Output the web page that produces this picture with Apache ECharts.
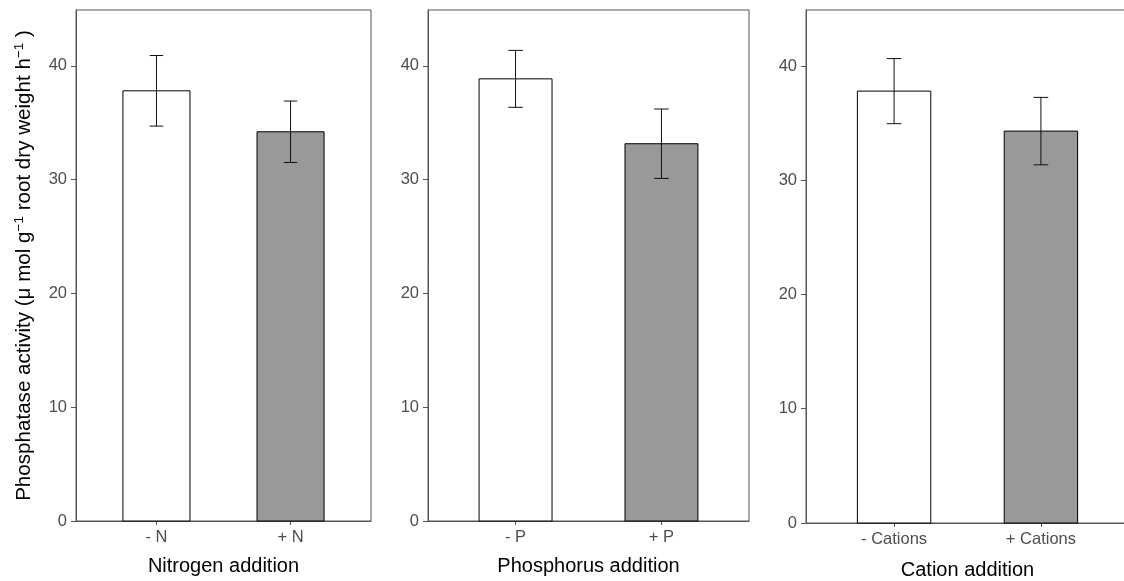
<!DOCTYPE html>
<html><head><meta charset="utf-8">
<script src="https://cdn.jsdelivr.net/npm/echarts@6/dist/echarts.min.js"></script>
<style>html,body{margin:0;padding:0;background:#fff}#c{width:1124px;height:581px}</style>
</head><body><div id="c"></div>
<script>
// ---- data ----
const nitrogenLabels = ['- N', '+ N'];
const nitrogenMeans = [37.8, 34.2];
const nitrogenErrors = [3.1, 2.7];
const phosphorusLabels = ['- P', '+ P'];
const phosphorusMeans = [38.85, 33.15];
const phosphorusErrors = [2.5, 3.05];
const cationLabels = ['- Cations', '+ Cations'];
const cationMeans = [37.8, 34.3];
const cationErrors = [2.85, 2.95];
const xTitles = ['Nitrogen addition', 'Phosphorus addition', 'Cation addition'];
const yTicks = [0, 10, 20, 30, 40];
const xPositions = [1, 2];

// ---- styles ----
const FONT = '"Liberation Sans", Arial, sans-serif';
const FILLS = ['#ffffff', '#999999'];
const FRAME = '#555555';
const TICKTXT = '#4d4d4d';

const panels = [
  {labels: nitrogenLabels, means: nitrogenMeans, errs: nitrogenErrors, grid: {left: 76, top: 10, width: 295, height: 511}, gap: 35},
  {labels: phosphorusLabels, means: phosphorusMeans, errs: phosphorusErrors, grid: {left: 428, top: 10, width: 321, height: 511}, gap: 35},
  {labels: cationLabels, means: cationMeans, errs: cationErrors, grid: {left: 806, top: 10, width: 323, height: 513}, gap: 37}
];

function barItem(params, api) {
  const x = api.value(0), y = api.value(1);
  const p0 = api.coord([x - 0.25, y]);
  const p1 = api.coord([x + 0.25, 0]);
  return {type: 'rect',
    shape: {x: p0[0], y: p0[1], width: p1[0] - p0[0], height: p1[1] - p0[1]},
    style: {fill: FILLS[params.dataIndex], stroke: '#000', lineWidth: 1}};
}
function errItem(params, api) {
  const x = api.value(0), m = api.value(1), e = api.value(2);
  const top = api.coord([x, m + e]);
  const bot = api.coord([x, m - e]);
  const l = api.coord([x - 0.05, m])[0];
  const r = api.coord([x + 0.05, m])[0];
  const st = {stroke: '#111', lineWidth: 1};
  return {type: 'group', children: [
    {type: 'line', shape: {x1: top[0], y1: top[1], x2: bot[0], y2: bot[1]}, style: st},
    {type: 'line', shape: {x1: l, y1: top[1], x2: r, y2: top[1]}, style: st},
    {type: 'line', shape: {x1: l, y1: bot[1], x2: r, y2: bot[1]}, style: st}
  ]};
}

const grid = [], xAxis = [], yAxis = [], series = [];
panels.forEach((p, i) => {
  grid.push(Object.assign({show: true, borderColor: FRAME, borderWidth: 1, backgroundColor: 'transparent',
    containLabel: false, outerBoundsMode: 'none'}, p.grid));
  xAxis.push({
    gridIndex: i, type: 'value', min: 0.4, max: 2.6,
    name: xTitles[i], nameLocation: 'middle', nameGap: p.gap,
    nameTextStyle: {fontFamily: FONT, fontSize: 20, color: '#000'},
    axisLine: {show: true, lineStyle: {color: FRAME}},
    axisTick: {show: true, length: 4, customValues: xPositions, lineStyle: {color: FRAME}},
    axisLabel: {customValues: xPositions, margin: 8, fontFamily: FONT, fontSize: 16.5, color: TICKTXT,
      formatter: v => p.labels[Math.round(v) - 1]},
    splitLine: {show: false}
  });
  const ya = {
    gridIndex: i, type: 'value', min: 0, max: 44.9,
    axisLine: {show: true, lineStyle: {color: FRAME}},
    axisTick: {show: true, length: 5, customValues: yTicks, lineStyle: {color: FRAME}},
    axisLabel: {customValues: yTicks, margin: 9, fontFamily: FONT, fontSize: 16.5, color: TICKTXT},
    splitLine: {show: false}
  };
  if (i === 0) {
    ya.name = '{t|Phosphatase activity (μ mol g}{s|−1}{t| root dry weight h}{s|−1}{t| )}';
    ya.nameLocation = 'middle';
    ya.nameGap = 40;
    ya.nameRotate = 90;
    ya.nameTextStyle = {rich: {
      t: {fontFamily: FONT, fontSize: 20.6, color: '#000', lineHeight: 24},
      s: {fontFamily: FONT, fontSize: 13.5, color: '#000', lineHeight: 14, verticalAlign: 'top'}
    }};
  }
  yAxis.push(ya);
  const data = xPositions.map((x, k) => [x, p.means[k], p.errs[k]]);
  series.push({type: 'custom', xAxisIndex: i, yAxisIndex: i, renderItem: barItem, data: data, clip: false, silent: true, encode: {x: 0, y: 1}});
  series.push({type: 'custom', xAxisIndex: i, yAxisIndex: i, renderItem: errItem, data: data, clip: false, silent: true, encode: {x: 0, y: [1]}});
});

const chart = echarts.init(document.getElementById('c'), null, {renderer: 'canvas'});
chart.setOption({animation: false, backgroundColor: '#fff', grid, xAxis, yAxis, series});
</script>
</body></html>
